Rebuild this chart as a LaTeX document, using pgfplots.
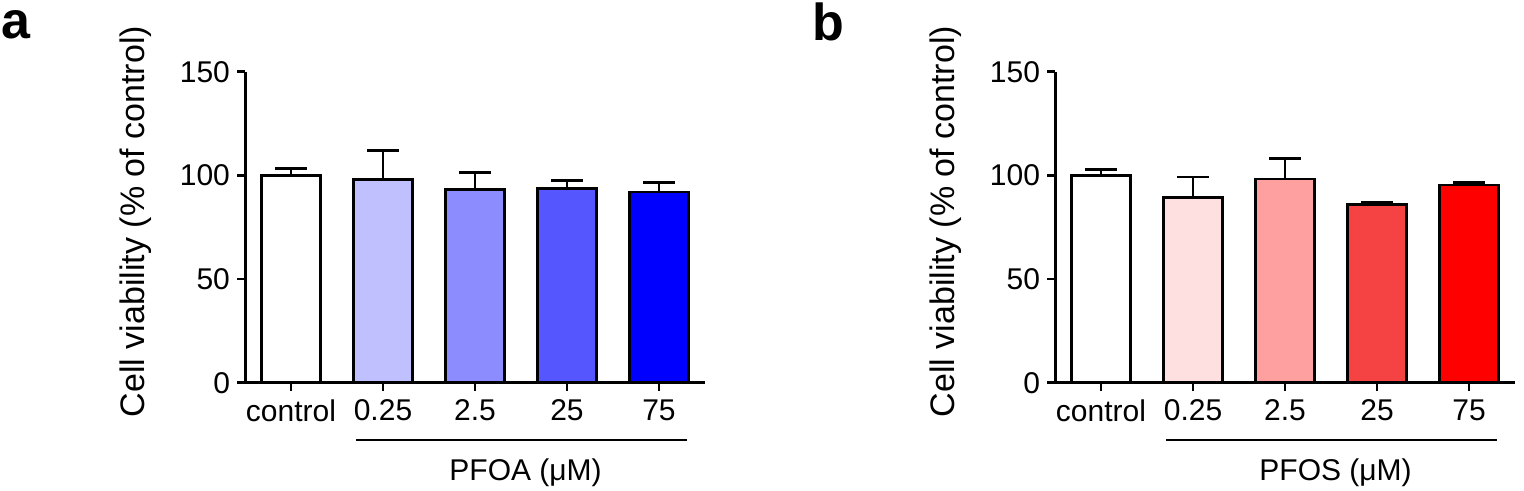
\documentclass[border=0pt]{standalone}
\usepackage{fontspec}
\setmainfont{Liberation Sans}
\usepackage{pgfplots}
\pgfplotsset{compat=1.18}

% bar fills, light to dark
\definecolor{pa1}{RGB}{192,192,255}
\definecolor{pa2}{RGB}{140,140,255}
\definecolor{pa3}{RGB}{86,86,255}
\definecolor{pa4}{RGB}{0,0,255}
\definecolor{pb1}{RGB}{255,224,224}
\definecolor{pb2}{RGB}{255,160,160}
\definecolor{pb3}{RGB}{245,66,66}
\definecolor{pb4}{RGB}{255,0,0}

\pgfplotsset{
  viab/.style={
    width=230pt, height=155.5pt, scale only axis,
    anchor=south west,
    xmin=-0.5, xmax=4.5, ymin=0, ymax=150,
    axis lines*=left,
    axis line style={line width=1.5pt},
    xtick={0,1,2,3,4},
    xticklabels={control,0.25,2.5,25,75},
    ytick={0,50,100,150},
    tick align=outside, major tick length=4pt,
    tick style={line width=1.3pt, black},
    ticklabel style={font=\fontsize{15}{18}\selectfont},
    xticklabel style={yshift=-1pt},
    /pgf/number format/assume math mode=true,
    ylabel={Cell viability (\% of control)},
    ylabel style={font=\fontsize{17}{20}\selectfont,
      at={(axis description cs:-0.238,0.518)}, anchor=center},
    ybar, bar width=29.5pt,
    clip=false,
  },
  vbar/.style={fill=#1, draw=black, line width=1.4pt, bar shift=0pt,
    error bars/y dir=plus, error bars/y explicit,
    error bars/error bar style={line width=1.4pt, black},
    error bars/error mark options={rotate=90, line width=1.4pt, mark size=8pt, black}},
}

\begin{document}
\begin{tikzpicture}
\path[use as bounding box] (0pt,0pt) rectangle (762pt,-245.5pt);

\node[anchor=base west, inner sep=0, font=\fontsize{26}{30}\selectfont\bfseries] at (0.8pt,-19.5pt) {a};
\node[anchor=base west, inner sep=0, font=\fontsize{26}{30}\selectfont\bfseries] at (406pt,-20.5pt) {b};

% panel a: PFOA
\begin{axis}[viab, at={(122.5pt,-191.35pt)}]
\addplot[vbar=white] coordinates {(0,100) +- (0,3.5)};
\addplot[vbar=pa1] coordinates {(1,98) +- (0,14)};
\addplot[vbar=pa2] coordinates {(2,93) +- (0,8.3)};
\addplot[vbar=pa3] coordinates {(3,93.6) +- (0,3.8)};
\addplot[vbar=pa4] coordinates {(4,92) +- (0,4.7)};
\draw[line width=1.3pt] (axis cs:0.71,-27.6) -- (axis cs:4.3,-27.6);
\node[anchor=base, font=\fontsize{15}{18}\selectfont] at (axis cs:2.55,-47.4) {PFOA (μM)};
\end{axis}

% panel b: PFOS
\begin{axis}[viab, at={(527.5pt,-191.35pt)}]
\addplot[vbar=white] coordinates {(0,100) +- (0,3)};
\addplot[vbar=pb1] coordinates {(1,89.5) +- (0,9.7)};
\addplot[vbar=pb2] coordinates {(2,98.2) +- (0,10)};
\addplot[vbar=pb3] coordinates {(3,85.8) +- (0,1.3)};
\addplot[vbar=pb4] coordinates {(4,95.4) +- (0,1.3)};
\draw[line width=1.3pt] (axis cs:0.71,-27.6) -- (axis cs:4.3,-27.6);
\node[anchor=base, font=\fontsize{15}{18}\selectfont] at (axis cs:2.55,-47.4) {PFOS (μM)};
\end{axis}
\end{tikzpicture}
\end{document}
